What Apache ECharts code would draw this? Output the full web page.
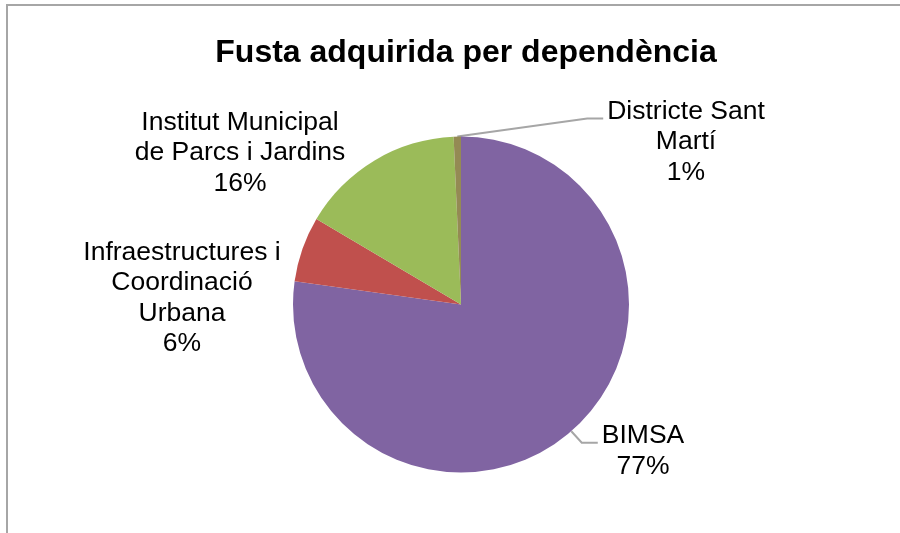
<!DOCTYPE html>
<html>
<head>
<meta charset="utf-8">
<script src="https://cdn.jsdelivr.net/npm/echarts@6/dist/echarts.min.js"></script>
<style>
  html, body { margin: 0; padding: 0; background: #fff; }
  #wrap { position: relative; width: 900px; height: 533px; overflow: hidden; }
  #frame { position: absolute; left: 6px; top: 4px; width: 900px; height: 540px;
           border-left: 2px solid #A6A6A6; border-top: 2px solid #A6A6A6; box-sizing: border-box; }
  #chart { position: absolute; left: 0; top: 0; width: 900px; height: 533px; }
</style>
</head>
<body>
<div id="wrap">
  <div id="frame"></div>
  <div id="chart"></div>
</div>
<script>
// Data
const categories = ['BIMSA', 'Infraestructures i Coordinació Urbana', 'Institut Municipal de Parcs i Jardins', 'Districte Sant Martí'];
const labelNames = ['BIMSA', 'Infraestructures i\nCoordinació\nUrbana', 'Institut Municipal\nde Parcs i Jardins', 'Districte Sant\nMartí'];
const values = [77.2, 6.3, 15.8, 0.7];
const titleText = 'Fusta adquirida per dependència';

// Styling / layout (not data)
const colors = ['#8064A2', '#C0504D', '#9BBB59', '#948A54'];
const labelPos = [
  { x: 643, y: 451 },
  { x: 182, y: 298 },
  { x: 240, y: 153 },
  { x: 686, y: 142 }
];
const showLine = [true, false, false, true];
const LINE_H = 30.5;

const chart = echarts.init(document.getElementById('chart'), null, { renderer: 'canvas' });
chart.setOption({
  animation: false,
  backgroundColor: 'transparent',
  title: {
    text: titleText,
    left: 461,
    top: 32,
    textAlign: 'center',
    textStyle: { fontFamily: 'Liberation Sans, Arial, sans-serif', fontWeight: 'bold', fontSize: 32, color: '#000' }
  },
  series: [{
    type: 'pie',
    center: [461, 304.5],
    radius: 168,
    startAngle: 90,
    clockwise: true,
    percentPrecision: 0,
    data: categories.map((c, i) => ({
      name: c,
      value: values[i],
      itemStyle: { color: colors[i] },
      labelLine: { show: showLine[i] }
    })),
    label: {
      show: true,
      position: 'outside',
      fontFamily: 'Liberation Sans, Arial, sans-serif',
      fontSize: 26.5,
      lineHeight: LINE_H,
      color: '#000',
      align: 'center',
      formatter: p => labelNames[p.dataIndex] + '\n' + p.percent + '%'
    },
    labelLine: {
      show: true,
      length: 10,
      length2: 10,
      lineStyle: { color: '#A6A6A6', width: 2 }
    },
    labelLayout: function (params) {
      const i = params.dataIndex;
      const p = labelPos[i];
      const out = { x: p.x, y: p.y, align: 'center', verticalAlign: 'middle' };
      if (showLine[i] && params.labelLinePoints) {
        const w = params.labelRect.width, h = params.labelRect.height;
        const left = p.x - w / 2;
        const firstY = p.y - h / 2 + LINE_H / 2 + 7;
        out.labelLinePoints = [
          params.labelLinePoints[0],
          [left - 20, firstY],
          [left - 4, firstY]
        ];
      }
      return out;
    },
    emphasis: { disabled: true }
  }]
});
</script>
</body>
</html>
